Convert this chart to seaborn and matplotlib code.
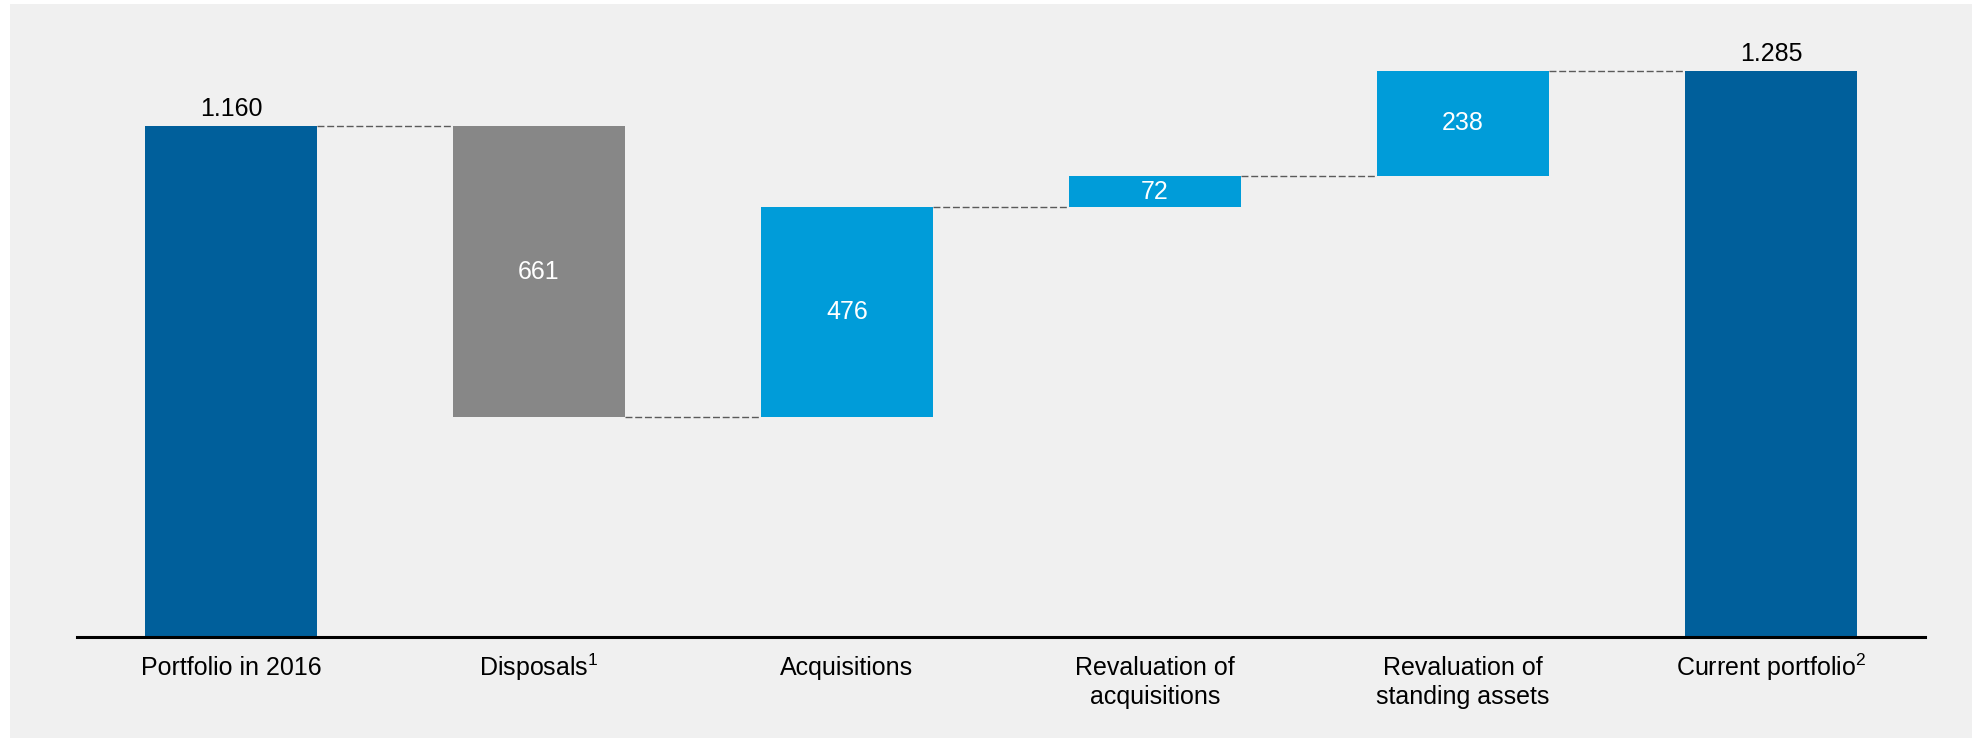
import matplotlib
matplotlib.use("Agg")
import matplotlib.pyplot as plt
import matplotlib.transforms as mtransforms
import seaborn as sns
import pandas as pd
from matplotlib.patches import Rectangle

# Portfolio bridge values
categories = ["Portfolio in 2016", "Disposals$^{1}$", "Acquisitions",
              "Revaluation of\nacquisitions", "Revaluation of\nstanding assets",
              "Current portfolio$^{2}$"]
changes = [1160, -661, 476, 72, 238, 1285]
kinds = ["total", "delta", "delta", "delta", "delta", "total"]
value_labels = ["1.160", "661", "476", "72", "238", "1.285"]

DARK_BLUE = "#005F9B"
LIGHT_BLUE = "#009CD9"
GREY = "#878787"
BG = "#F0F0F0"

# Waterfall geometry: bottom and height of each floating bar
bottoms, heights, tops = [], [], []
running = 0
for v, k in zip(changes, kinds):
    if k == "total":
        bottoms.append(0)
        heights.append(v)
        running = v
    else:
        start = running
        running = running + v
        bottoms.append(min(start, running))
        heights.append(abs(v))
    tops.append(running)

colors = []
for v, k in zip(changes, kinds):
    if k == "total":
        colors.append(DARK_BLUE)
    elif v < 0:
        colors.append(GREY)
    else:
        colors.append(LIGHT_BLUE)

df = pd.DataFrame({"category": categories, "height": heights, "bottom": bottoms})

sns.set_theme(style="white")
plt.rcParams["font.family"] = ["Liberation Sans", "DejaVu Sans"]
plt.rcParams["mathtext.fontset"] = "custom"
plt.rcParams["mathtext.rm"] = "Liberation Sans"
plt.rcParams["mathtext.it"] = "Liberation Sans"
plt.rcParams["mathtext.default"] = "regular"

fig = plt.figure(figsize=(19.72, 7.38), dpi=100)
fig.patch.set_facecolor("white")
fig.patches.append(Rectangle((10 / 1972, 0), 1 - 10 / 1972, 1 - 4 / 738,
                             transform=fig.transFigure, facecolor=BG,
                             edgecolor="none", zorder=-10))

ax = fig.add_axes([77 / 1972, 1 - 637 / 738, (1925 - 77) / 1972, (637 - 10) / 738])
ax.set_facecolor("none")

sns.barplot(data=df, x="category", y="height", bottom=df["bottom"].to_numpy(),
            color=LIGHT_BLUE, width=0.558, saturation=1, ax=ax, zorder=2,
            linewidth=0)
for patch, c in zip(ax.patches, colors):
    patch.set_facecolor(c)
    patch.set_edgecolor("none")

ax.set_xlim(-0.5, len(categories) - 0.5)
ax.set_ylim(0, 1423)

# Dashed connectors between consecutive bars
half = 0.558 / 2
for i in range(len(categories) - 1):
    ax.plot([i + half, i + 1 - half], [tops[i], tops[i]],
            color="#5A5A5A", lw=1.0, ls=(0, (5, 2)), zorder=1)

# Value labels: totals above, changes inside
for i, (k, lab) in enumerate(zip(kinds, value_labels)):
    if k == "total":
        ax.text(i, bottoms[i] + heights[i] + 12, lab, ha="center", va="bottom",
                fontsize=18, color="black")
    else:
        ax.text(i, bottoms[i] + heights[i] / 2, lab, ha="center", va="center",
                fontsize=18, color="white")

for s in ["top", "right", "left"]:
    ax.spines[s].set_visible(False)
ax.spines["bottom"].set_color("black")
ax.spines["bottom"].set_linewidth(2.2)
ax.set_yticks([])
ax.set_xlabel("")
ax.set_ylabel("")
ax.tick_params(axis="x", length=0, pad=14, labelsize=18, colors="black")

# Labels carrying a footnote superscript get a taller box; lift them so
# all first lines share one baseline.
lift = mtransforms.ScaledTranslation(0, 5 / 100, fig.dpi_scale_trans)
for t in ax.get_xticklabels():
    t.set_linespacing(1.25)
    t.set_verticalalignment("top")
    if "$" in t.get_text():
        t.set_transform(t.get_transform() + lift)

fig.savefig("out.png", dpi=100, facecolor=fig.get_facecolor())
